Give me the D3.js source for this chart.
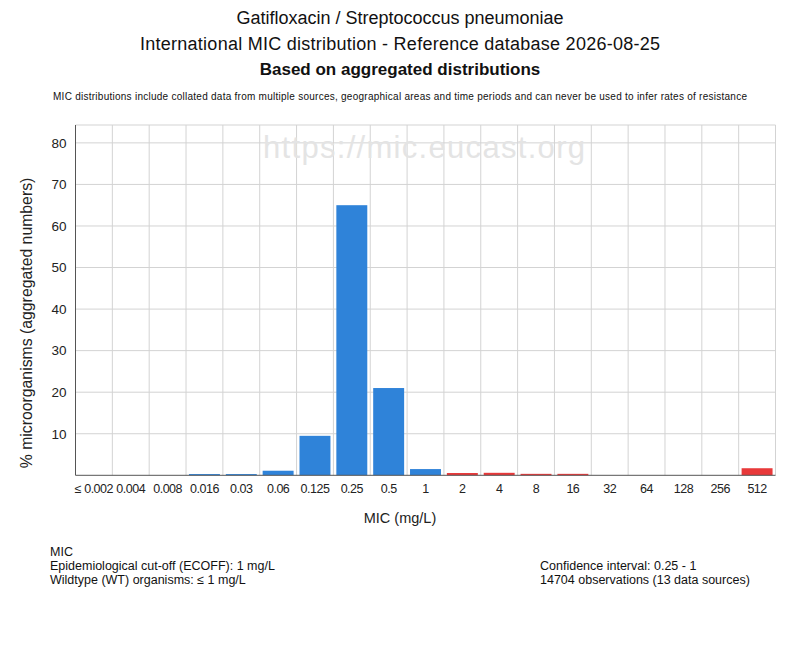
<!DOCTYPE html>
<html><head><meta charset="utf-8">
<script src="https://cdn.jsdelivr.net/npm/d3@7"></script>
<style>body{margin:0;background:#fff}svg{display:block}text{font-family:"Liberation Sans",Arial,sans-serif}</style>
</head><body>
<svg id="c" width="800" height="650"></svg>
<script>
const categories = ["≤ 0.002","0.004","0.008","0.016","0.03","0.06","0.125","0.25","0.5","1","2","4","8","16","32","64","128","256","512"];
const values = [0,0,0,0.3,0.3,1.1,9.5,65,21,1.5,0.55,0.6,0.35,0.35,0,0,0,0,1.7];
const wildtype = [true,true,true,true,true,true,true,true,true,true,false,false,false,false,false,false,false,false,false];
const yTicks = [10,20,30,40,50,60,70,80];
const yMax = 84.3;

const FF = "'Liberation Sans', Arial, sans-serif";
const svg = d3.select("#c");
const m = {l:75.5, r:775.5, t:125, b:475.3};
const x = d3.scaleBand().domain(categories).range([m.l, m.r]).paddingInner(0.16).paddingOuter(0.08);
const xg = d3.scaleBand().domain(categories).range([m.l, m.r]);
const y = d3.scaleLinear().domain([0, yMax]).range([m.b, m.t]);

// titles
const T = svg.append("g").attr("text-anchor","middle").attr("fill","#111");
T.append("text").attr("x",400).attr("y",24).attr("font-size",18).text("Gatifloxacin / Streptococcus pneumoniae");
T.append("text").attr("x",400).attr("y",50).attr("font-size",18).attr("textLength",520).text("International MIC distribution - Reference database 2026-08-25");
T.append("text").attr("x",400).attr("y",75).attr("font-size",17).attr("font-weight","bold").text("Based on aggregated distributions");
T.append("text").attr("x",400).attr("y",100).attr("font-size",10).attr("textLength",694).text("MIC distributions include collated data from multiple sources, geographical areas and time periods and can never be used to infer rates of resistance");

// grid
const grid = svg.append("g").attr("stroke","#d3d3d3").attr("stroke-width",1);
grid.selectAll("line.h").data(yTicks).join("line").attr("x1",m.l).attr("x2",m.r).attr("y1",d=>y(d)).attr("y2",d=>y(d));
grid.selectAll("line.v").data(categories.slice(1)).join("line").attr("x1",d=>xg(d)).attr("x2",d=>xg(d)).attr("y1",m.t).attr("y2",m.b);
grid.append("line").attr("x1",m.l).attr("x2",m.r).attr("y1",m.t).attr("y2",m.t);
grid.append("line").attr("x1",m.r).attr("x2",m.r).attr("y1",m.t).attr("y2",m.b);

// watermark
svg.append("text").attr("x",424).attr("y",158).attr("text-anchor","middle").attr("font-size",31).attr("textLength",322).attr("fill","#e4e4e4").text("https://mic.eucast.org");

// bars
svg.append("g").selectAll("rect").data(categories).join("rect")
  .attr("x",d=>x(d)).attr("width",x.bandwidth())
  .attr("y",(d,i)=>y(values[i])).attr("height",(d,i)=>y(0)-y(values[i]))
  .attr("fill",(d,i)=>wildtype[i] ? "#2f83d9" : "#e8393a");

// axes
const ya = svg.append("g").attr("transform",`translate(${m.l},0)`)
  .call(d3.axisLeft(y).tickValues(yTicks).tickSize(0).tickPadding(9));
ya.select(".domain").attr("stroke","#555").attr("d",`M0,${m.t}V${m.b}`);
ya.selectAll("text").attr("font-size",13.5).attr("fill","#222").style("font-family",FF);

const xa = svg.append("g").attr("transform",`translate(0,${m.b})`)
  .call(d3.axisBottom(xg).tickSize(0).tickPadding(9));
xa.select(".domain").attr("stroke","#555").attr("d",`M${m.l},0H${m.r}`);
xa.selectAll("text").attr("font-size",12.5).attr("fill","#222").style("font-family",FF).attr("letter-spacing",-0.5);

// axis titles
svg.append("text").attr("transform","translate(32,323) rotate(-90)").attr("text-anchor","middle").attr("font-size",15.8).attr("fill","#222").text("% microorganisms (aggregated numbers)");
svg.append("text").attr("x",400).attr("y",523).attr("text-anchor","middle").attr("font-size",14.5).attr("fill","#222").text("MIC (mg/L)");

// footer
const F = svg.append("g").attr("font-size",12.5).attr("fill","#111");
F.append("text").attr("x",50).attr("y",556).text("MIC");
F.append("text").attr("x",50).attr("y",570).text("Epidemiological cut-off (ECOFF): 1 mg/L");
F.append("text").attr("x",50).attr("y",584).text("Wildtype (WT) organisms: ≤ 1 mg/L");
F.append("text").attr("x",540).attr("y",570).text("Confidence interval: 0.25 - 1");
F.append("text").attr("x",540).attr("y",584).text("14704 observations (13 data sources)");
</script>
</body></html>
